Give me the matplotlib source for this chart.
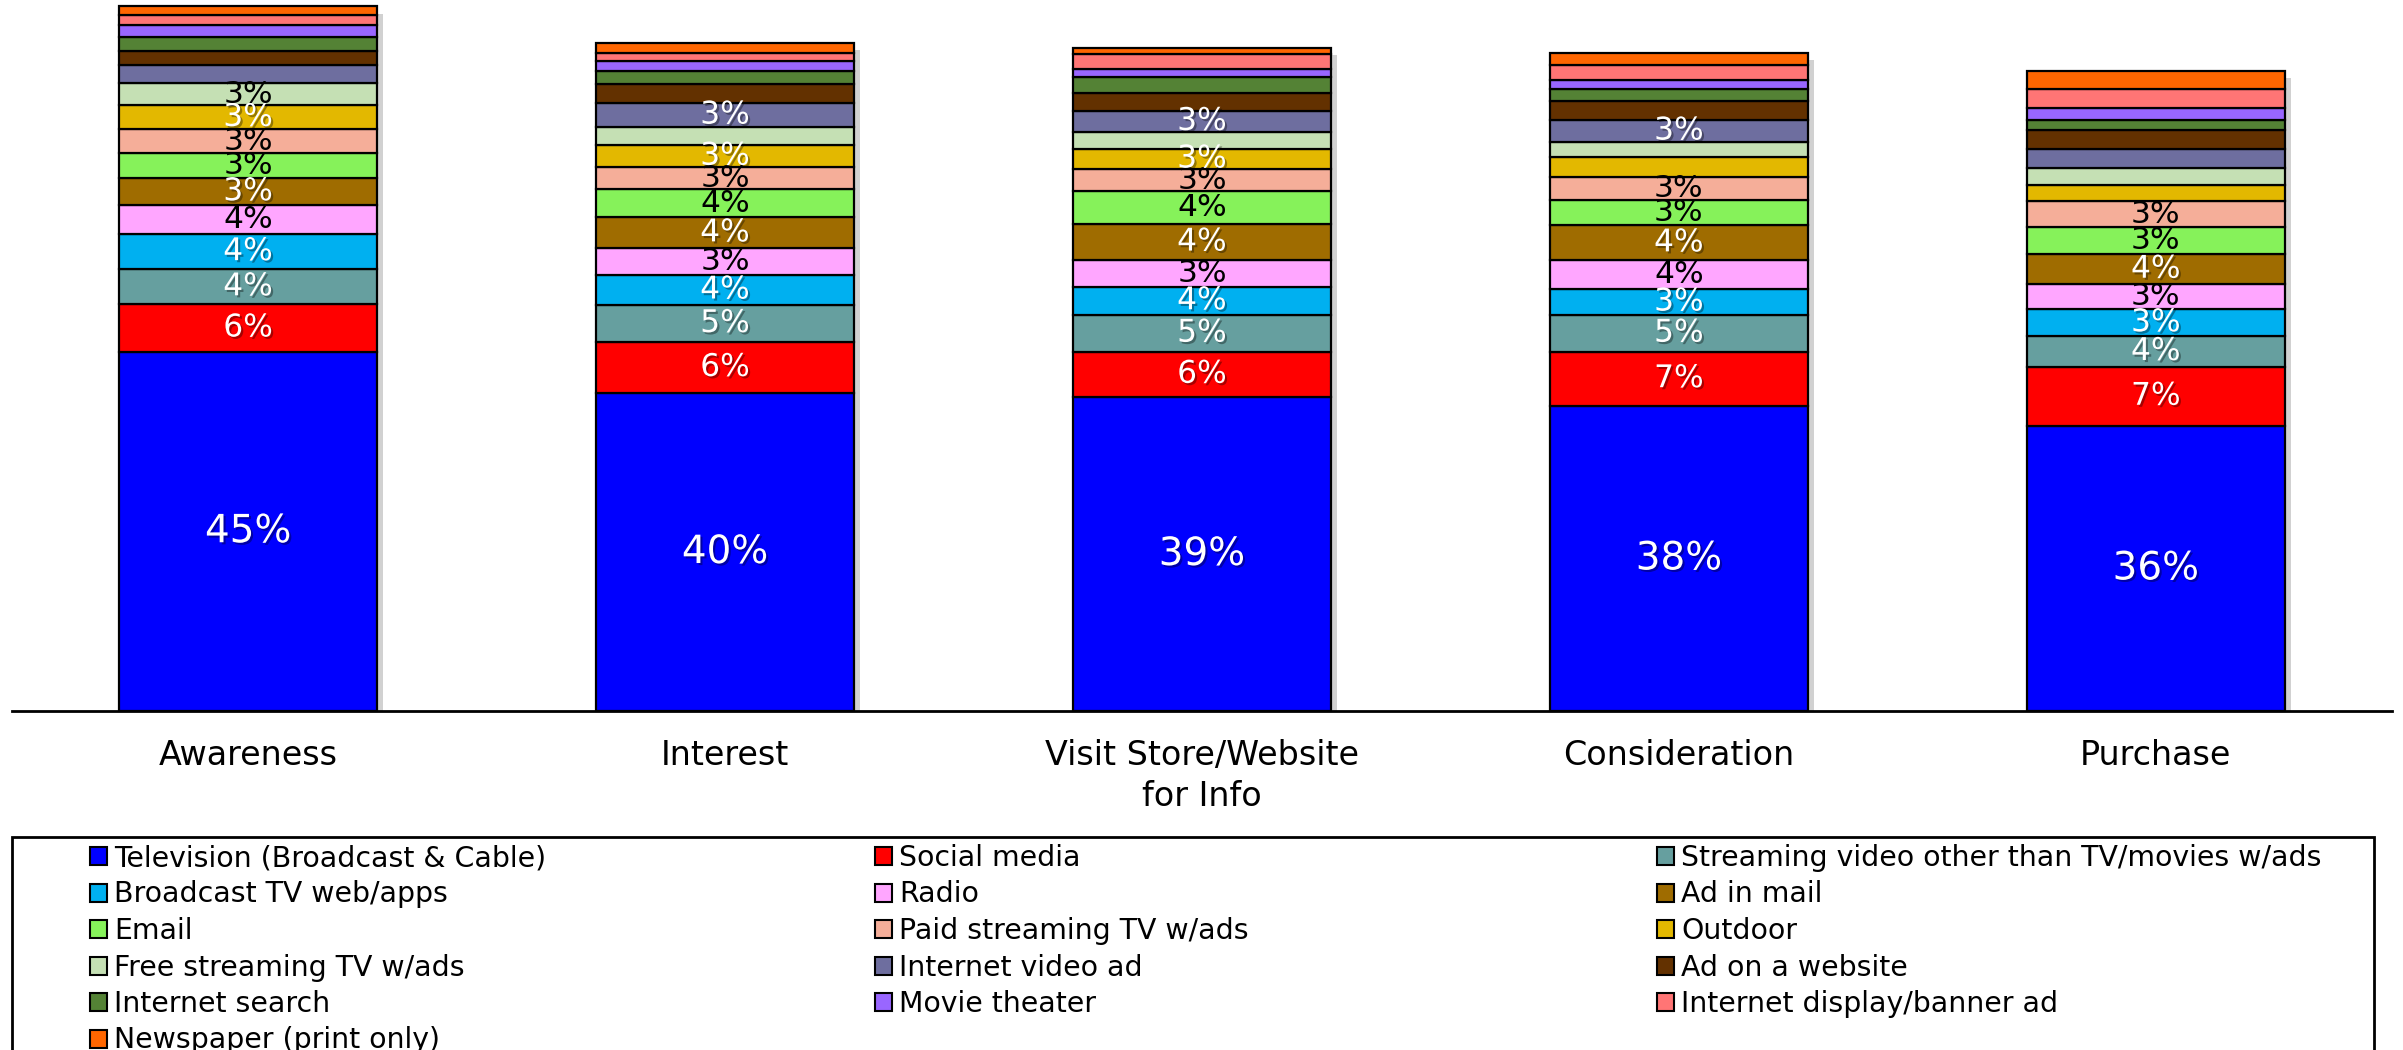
import matplotlib
matplotlib.use("Agg")
import matplotlib.pyplot as plt
import matplotlib.patheffects as pe
from matplotlib.patches import Rectangle, Patch
import numpy as np

stages = ["Awareness", "Interest", "Visit Store/Website\nfor Info", "Consideration", "Purchase"]

media = [
    "Television (Broadcast & Cable)", "Social media", "Streaming video other than TV/movies w/ads",
    "Broadcast TV web/apps", "Radio", "Ad in mail",
    "Email", "Paid streaming TV w/ads", "Outdoor",
    "Free streaming TV w/ads", "Internet video ad", "Ad on a website",
    "Internet search", "Movie theater", "Internet display/banner ad",
    "Newspaper (print only)",
]

# share (%) per stage, same order as stages
television = [45.0, 39.8, 39.3, 38.2, 35.7]
social = [5.9, 6.4, 5.7, 6.8, 7.4]
streaming_video = [4.4, 4.6, 4.6, 4.6, 3.8]
broadcast_web = [4.4, 3.8, 3.5, 3.2, 3.4]
radio = [3.6, 3.3, 3.4, 3.6, 3.1]
ad_in_mail = [3.4, 3.9, 4.4, 4.4, 3.8]
email = [3.1, 3.5, 4.2, 3.2, 3.4]
paid_streaming = [3.0, 2.8, 2.7, 2.9, 3.2]
outdoor = [3.0, 2.7, 2.6, 2.4, 2.1]
free_streaming = [2.8, 2.3, 2.1, 1.9, 2.1]
internet_video = [2.3, 3.0, 2.6, 2.8, 2.4]
ad_on_website = [1.75, 2.4, 2.3, 2.3, 2.3]
internet_search = [1.7, 1.6, 2.0, 1.6, 1.3]
movie_theater = [1.5, 1.3, 1.0, 1.1, 1.5]
banner_ad = [1.25, 1.0, 1.8, 1.9, 2.3]
newspaper = [1.1, 1.25, 0.8, 1.5, 2.3]

series = [television, social, streaming_video, broadcast_web, radio, ad_in_mail,
          email, paid_streaming, outdoor, free_streaming, internet_video, ad_on_website,
          internet_search, movie_theater, banner_ad, newspaper]

colors = ["#0000FF", "#FF0000", "#669F9F", "#00B0F0", "#FFA6FF", "#9F6C00",
          "#86F25A", "#F5AE99", "#E3B800", "#C5E0B4", "#6E6E9F", "#633100",
          "#548235", "#9966FF", "#FF7575", "#FF6600"]
text_colors = ["white", "white", "white", "white", "black", "white",
               "black", "black", "white", "black", "white", "white",
               "white", "white", "black", "black"]

fig = plt.figure(figsize=(24.03, 10.5), dpi=100)
ax = fig.add_axes([0.005, 1 - 711 / 1050, 0.9904, 711 / 1050])

x = np.arange(len(stages))
width = 0.54
totals = np.sum(np.array(series), axis=0)

# soft drop shadow behind each column
ax.bar(x + 0.013, totals - 0.4, width, bottom=-0.5, color="#8c8c8c", alpha=0.4,
       linewidth=0, zorder=1)

bottom = np.zeros(len(stages))
for vals, c, tc in zip(series, colors, text_colors):
    vals = np.array(vals)
    ax.bar(x, vals, width, bottom=bottom, color=c, edgecolor="black", linewidth=1.6, zorder=2)
    for xi, b, v in zip(x, bottom, vals):
        if v >= 2.5:
            size = 28 if v > 20 else 22.5
            effects = [pe.withSimplePatchShadow(offset=(1.5, -1.5), shadow_rgbFace="black", alpha=0.35)] \
                if tc == "white" else []
            ax.text(xi, b + v / 2, f"{v:.0f}%", ha="center", va="center", color=tc,
                    fontsize=size, zorder=3, path_effects=effects)
    bottom += vals

ax.set_xlim(-0.495, 4.495)
ax.set_ylim(0, 89)
ax.set_yticks([])
ax.set_xticks(x)
ax.set_xticklabels(stages, fontsize=24, linespacing=1.3)
ax.tick_params(axis="x", length=0, pad=20)
for s in ["top", "left", "right"]:
    ax.spines[s].set_visible(False)
ax.spines["bottom"].set_linewidth(2)
ax.spines["bottom"].set_zorder(4)

# legend frame
fig.patches.append(Rectangle((12 / 2403, -0.01), 2362 / 2403, 1 - 837 / 1050 + 0.01,
                             transform=fig.transFigure, fill=False, edgecolor="black",
                             linewidth=2))

handles = [Patch(facecolor=c, edgecolor="black", linewidth=1.5) for c in colors]
col_x = [90 / 2403, 875 / 2403, 1657 / 2403]
for k in range(3):
    leg = fig.legend(handles[k::3], media[k::3], loc="upper left",
                     bbox_to_anchor=(col_x[k], 1 - 844 / 1050), frameon=False,
                     fontsize=20.4, handlelength=0.6, handleheight=0.6, handletextpad=0.25,
                     labelspacing=0.3, borderaxespad=0, borderpad=0)

fig.savefig("out.png", dpi=100)
